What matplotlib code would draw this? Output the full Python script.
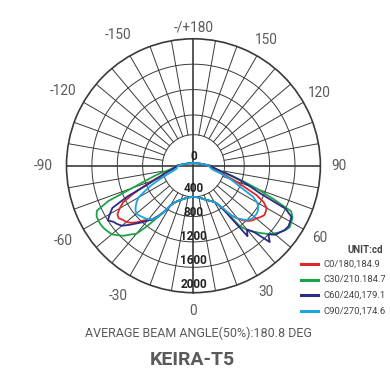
import numpy as np
import matplotlib
matplotlib.use("Agg")
import matplotlib.pyplot as plt
from matplotlib.lines import Line2D

# gamma angles (deg from nadir) shared by every half plane
gamma = [0, 5, 10, 15, 20, 25, 27.5, 30, 32.5, 35, 37.5, 40, 42.5, 45, 47.5, 50,
         52.5, 55, 57.5, 60, 62.5, 65, 67.5, 70, 72.5, 75, 77.5, 80, 85, 90,
         100, 110, 120, 135, 150, 165, 180]

# common parts near nadir (0-30) and in the upper hemisphere (100-180), cd
head_right = [490, 495, 510, 535, 570, 610, 630, 660]
head_left = [490, 495, 510, 535, 570, 620, 660, 720]
tail = [150, 100, 75, 55, 45, 40, 38]

# lobe values for gamma 32.5 .. 90, cd
c0 = [720, 830, 990, 1090, 1170, 1230, 1270, 1290, 1330, 1360, 1350, 1330, 1250, 1100, 860, 700, 560, 460, 380, 320, 270, 250]
c180 = [860, 970, 1060, 1110, 1170, 1260, 1330, 1380, 1400, 1440, 1420, 1340, 1250, 1050, 840, 680, 540, 460, 400, 340, 290, 260]
c30 = [720, 880, 1200, 1320, 1410, 1500, 1590, 1660, 1720, 1770, 1800, 1780, 1760, 1700, 1350, 1080, 840, 640, 500, 400, 300, 260]
c210 = [870, 1000, 1200, 1400, 1470, 1560, 1620, 1680, 1700, 1720, 1730, 1730, 1720, 1680, 1450, 1020, 800, 650, 530, 400, 300, 260]
c60 = [720, 900, 1400, 1310, 1420, 1700, 1600, 1690, 1720, 1760, 1775, 1760, 1740, 1600, 1140, 950, 780, 630, 500, 410, 310, 265]
c240 = [860, 970, 1070, 1130, 1210, 1290, 1380, 1470, 1510, 1540, 1600, 1520, 1440, 1150, 800, 640, 540, 470, 410, 350, 290, 260]
c90 = [720, 830, 1000, 1080, 1150, 1210, 1240, 1250, 1250, 1240, 1210, 1160, 1060, 850, 720, 620, 500, 420, 330, 290, 260, 245]
c270 = [860, 990, 1060, 1100, 1125, 1140, 1160, 1175, 1150, 1110, 1060, 1000, 860, 740, 600, 490, 410, 340, 300, 270, 255, 245]

series = [
    ("C0/180,184.9", c0, c180, "#e3262b"),
    ("C30/210.184.7", c30, c210, "#1ba34a"),
    ("C60/240,179.1", c60, c240, "#2b2c86"),
    ("C90/270,174.6", c90, c270, "#1aa7e1"),
]

radial_ticks = [0, 400, 800, 1200, 1600, 2000]
angle_ticks = [0, 30, 60, 90, 120, 150, 180, 210, 240, 270, 300, 330]
angle_names = ["0", "30", "60", "90", "120", "150", "-/+180", "-150", "-120", "-90", "-60", "-30"]

GRID = "#3a3a3a"
TXT = "#5a5a5a"
FONT = dict(family="Roboto")

fig = plt.figure(figsize=(3.9, 3.9), dpi=100)
ax = fig.add_axes([0.1705, 0.2495, 0.651, 0.651], projection="polar")
ax.set_theta_zero_location("S")
ax.set_theta_direction(1)
ax.set_ylim(0, 2000)
ax.set_xticks([])
ax.set_yticks([])
ax.grid(False)
ax.spines["polar"].set_color(GRID)
ax.spines["polar"].set_linewidth(1.2)

# grid: rings, spokes outside the inner circle, main axes
t = np.linspace(0, 2 * np.pi, 400)
for rr in [490, 800, 1200, 1600]:
    ax.plot(t, np.full_like(t, rr), color=GRID, lw=0.7, zorder=1)
for a in range(0, 360, 10):
    if a % 90 == 0:
        continue
    ax.plot([np.radians(a)] * 2, [490, 2000], color=GRID, lw=0.7, zorder=1)
for a in [0, 90, 180, 270]:
    ax.plot([np.radians(a)] * 2, [0, 2000], color=GRID, lw=1.2, zorder=1)

# curves
g = np.array(gamma)
for name, right, left, col in series:
    r_right = np.array(head_right + right + tail)
    r_left = np.array(head_left + left + tail)
    th = np.radians(np.concatenate([-g[::-1], g[1:]]))
    rr = np.concatenate([r_left[::-1], r_right[1:]])
    ax.plot(th, rr, color=col, lw=1.3, zorder=3)

# radial labels
for v in radial_ticks:
    if v == 0:
        ax.text(np.pi, 150, "0", ha="center", va="center", fontsize=8.5,
                fontweight="bold", color="#222222", zorder=4, **FONT)
    else:
        ax.text(0, v * 0.94 - 10, str(v), ha="center", va="center", fontsize=8.5,
                fontweight="bold", color="#222222", zorder=4, **FONT)

# angle labels
for a, s in zip(angle_ticks, angle_names):
    rl = 2370 if s.startswith("-") and a != 180 else 2290
    if a == 180:
        rl = 2180
    ax.text(np.radians(a), rl, s, ha="center", va="center", fontsize=9.8,
            color=TXT, clip_on=False, **FONT)

# legend
fig.text(383 / 390, 1 - 250 / 390, "UNIT:cd", ha="right", va="center",
         fontsize=7, fontweight="bold", color="#444444", **FONT)
for i, (name, right, left, col) in enumerate(series):
    y = 1 - (264 + 15.7 * i) / 390
    fig.add_artist(Line2D([301 / 390, 318 / 390], [y, y], color=col, lw=2.2))
    fig.text(324 / 390, y, name, ha="left", va="center", fontsize=6.8,
             color="#444444", **FONT)

fig.text(198 / 390, 1 - 333 / 390, "AVERAGE BEAM ANGLE(50%):180.8 DEG",
         ha="center", va="center", fontsize=9, color=TXT, **FONT)
fig.text(192 / 390, 1 - 360 / 390, "KEIRA-T5", ha="center", va="center",
         fontsize=14, fontweight="bold", color=TXT, **FONT)

fig.savefig("out.png", dpi=100, facecolor="white")
